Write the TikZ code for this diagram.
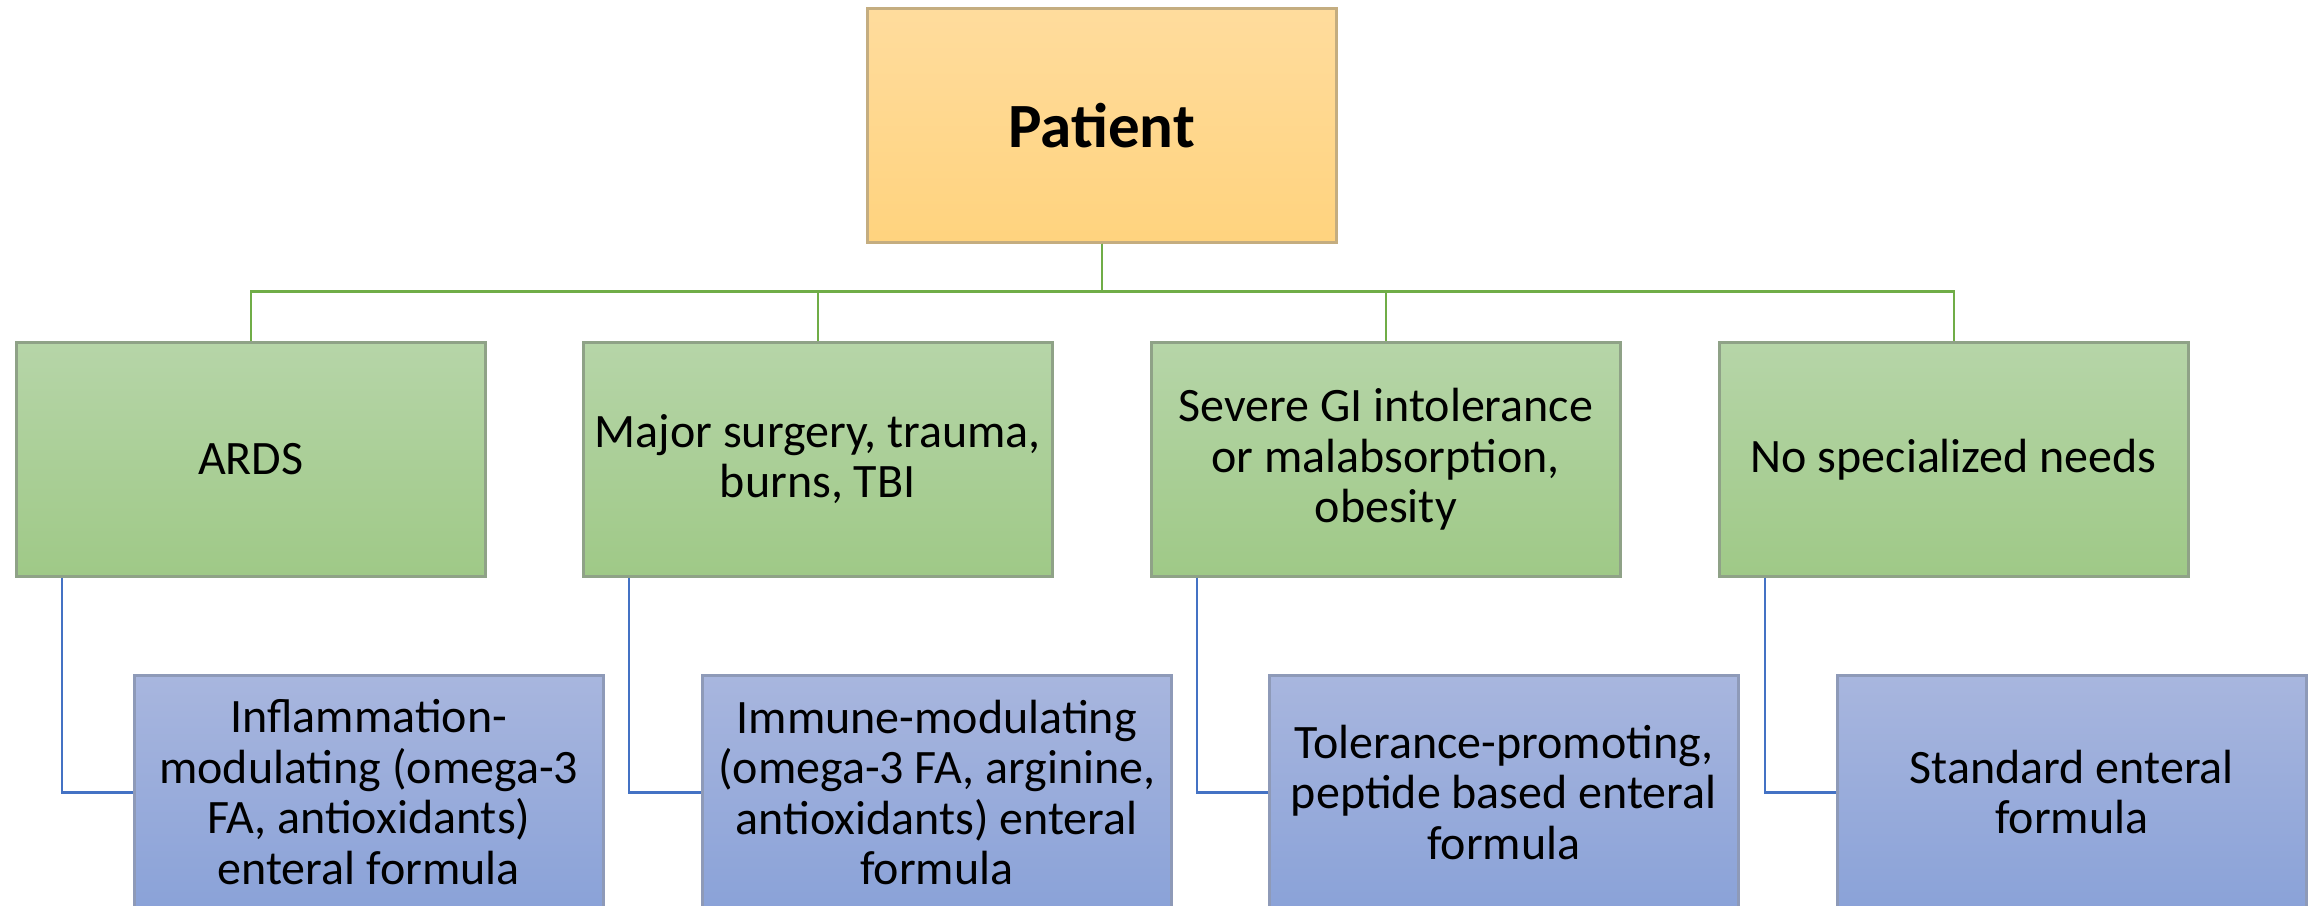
\documentclass[tikz,border=0pt]{standalone}
\usepackage{fontspec}
\setmainfont{Carlito}
\usetikzlibrary{calc}

\definecolor{rootTop}{HTML}{FFDC9D}
\definecolor{rootBot}{HTML}{FFD37E}
\definecolor{rootEdge}{HTML}{C4AD80}
\definecolor{condTop}{HTML}{B6D5A8}
\definecolor{condBot}{HTML}{9FC987}
\definecolor{condEdge}{HTML}{8FA287}
\definecolor{formTop}{HTML}{A8B6DE}
\definecolor{formBot}{HTML}{8AA2D8}
\definecolor{formEdge}{HTML}{8E9AB8}
\definecolor{greenLink}{HTML}{70AD47}
\definecolor{blueLink}{HTML}{4472C4}

\tikzset{
  box/.style={rectangle, minimum width=469pt, minimum height=234pt,
    line width=2.5pt, anchor=north west, align=center, inner sep=0pt,
    font=\fontsize{48}{50.5}\selectfont},
  rootbox/.style={box, top color=rootTop, bottom color=rootBot, draw=rootEdge,
    font=\bfseries\fontsize{63}{70}\selectfont},
  condbox/.style={box, top color=condTop, bottom color=condBot, draw=condEdge},
  formbox/.style={box, top color=formTop, bottom color=formBot, draw=formEdge},
  greenlink/.style={draw=greenLink, line width=2.5pt},
  bluelink/.style={draw=blueLink, line width=2.5pt},
}

\begin{document}
\begin{tikzpicture}[x=1pt, y=-1pt]
\useasboundingbox (0,0) rectangle (2318,905);
\clip (0,0) rectangle (2318,905);

% root
\node[rootbox] (pt) at (866,7) {Patient};

% patient conditions
\node[condbox] (c1) at (15,341)   {ARDS};
\node[condbox] (c2) at (582,341)  {Major surgery, trauma,\\ burns, TBI};
\node[condbox] (c3) at (1150,341) {Severe GI intolerance\\ or malabsorption,\\ obesity};
\node[condbox] (c4) at (1718,341) {No specialized needs};

% recommended formulas
\node[formbox] (f1) at (133,674)  {Inflammation-\\ modulating (omega-3\\ FA, antioxidants)\\ enteral formula};
\node[formbox] (f2) at (701,674)  {Immune-modulating\\ (omega-3 FA, arginine,\\ antioxidants) enteral\\ formula};
\node[formbox] (f3) at (1268,674) {Tolerance-promoting,\\ peptide based enteral\\ formula};
\node[formbox] (f4) at (1836,674) {Standard enteral\\ formula};

% tree links
\foreach \c in {c1,c2,c3,c4}
  \draw[greenlink] (pt.south) -- ++(0,48) -| (\c.north);

\foreach \c/\f in {c1/f1,c2/f2,c3/f3,c4/f4}
  \draw[bluelink] ($(\c.south west)+(47,0)$) |- (\f.west);
\end{tikzpicture}
\end{document}
